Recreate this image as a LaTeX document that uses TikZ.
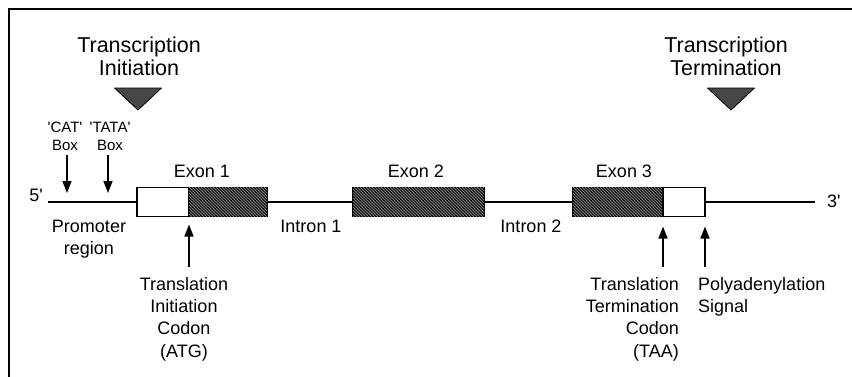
\documentclass[tikz,border=0pt]{standalone}
\usepackage{fontspec}
\setmainfont{Liberation Sans}
\usetikzlibrary{arrows.meta,patterns,positioning}

\tikzset{
    utr/.style={draw, line width=1.4pt, fill=white, minimum height=29pt, inner sep=0pt, outer sep=0pt},
    cds/.style={utr, fill=black!88, postaction={pattern=north west lines, pattern color=black!45}},
    dna/.style={line width=1.4pt},
    lbl/.style={font=\fontsize{18}{22.3}\selectfont, inner sep=0pt, align=center},
    ttl/.style={font=\fontsize{21.5}{23}\selectfont, inner sep=0pt, align=center},
    boxlbl/.style={font=\fontsize{15}{18}\selectfont, inner sep=0pt, align=center},
    marker/.style={fill=black!72, draw=black, line width=0.8pt, line join=round},
    pointer/.style={-{Triangle[length=12pt,width=9pt]}, line width=1.5pt}
}

\begin{document}
\begin{tikzpicture}[x=1pt, y=-1pt]
    \useasboundingbox (0,0) rectangle (852,376);
    \draw[line width=2.8pt] (9,390) |- (870,9);

    % exons
    \node[utr, minimum width=52pt]                 (e1u) at (163,202)   {};
    \node[cds, minimum width=78pt, right=0pt of e1u] (e1c)              {};
    \node[cds, minimum width=131pt]                (e2)  at (418.5,202) {};
    \node[cds, minimum width=90pt]                 (e3c) at (618,202)   {};
    \node[utr, minimum width=42pt, right=0pt of e3c] (e3u)              {};

    % strand
    \coordinate (s5) at (48,202);
    \coordinate (s3) at (815,202);
    \draw[dna] (s5) -- (e1u.west)
               (e1c.east) -- (e2.west)
               (e2.east) -- (e3c.west)
               (e3u.east) -- (s3);
    \node[lbl, anchor=base east] (p5) at (43,201) {5\textquotesingle};
    \node[lbl, anchor=base west] (p3) at (827,207) {3\textquotesingle};

    % labels
    \node[lbl, anchor=base] (x1) at (202,177) {Exon 1};
    \node[lbl, anchor=base] (x2) at (416,177) {Exon 2};
    \node[lbl, anchor=base] (x3) at (624,177) {Exon 3};
    \node[lbl, anchor=base] (i1) at (311,232) {Intron 1};
    \node[lbl, anchor=base] (i2) at (531,232) {Intron 2};
    \node[lbl, anchor=north] (prom) at (89,220) {Promoter\\region};

    % transcription start / stop
    \node[ttl, anchor=north] (tinit) at (139,37) {Transcription\\Initiation};
    \node[ttl, anchor=north] (tterm) at (726,37) {Transcription\\Termination};
    \coordinate (tip1) at (138,110);
    \coordinate (tip2) at (731,110);
    \draw[marker] (tip1) -- ++(-23.5,-22) -- ++(47,0) -- cycle;
    \draw[marker] (tip2) -- ++(-23.5,-22) -- ++(47,0) -- cycle;

    % promoter boxes
    \node[boxlbl, anchor=south] (cat)  at (65,151)  {\textquotesingle CAT\textquotesingle\\Box};
    \node[boxlbl, anchor=south] (tata) at (110,151) {\textquotesingle TATA\textquotesingle\\Box};
    \coordinate (catp)  at (67,193);
    \coordinate (tatap) at (108,193);
    \draw[pointer, shorten <=4pt] (cat.south -| catp) -- (catp);
    \draw[pointer, shorten <=4pt] (tata.south -| tatap) -- (tatap);

    % translation signals
    \coordinate[below=8pt of e1c.south west]  (atg);
    \coordinate[below=10pt of e3u.south west] (taa);
    \coordinate[below=10pt of e3u.south east] (polya);
    \node[lbl, anchor=north] (atgl) at (184,277) {Translation\\Initiation\\Codon\\(ATG)};
    \node[lbl, anchor=north east, align=right] (taal) at (679,277) {Translation\\Termination\\Codon\\(TAA)};
    \node[lbl, anchor=north west, align=left] (polyal) at (698,277) {Polyadenylation\\Signal};
    \draw[pointer, shorten <=10pt] (atgl.north -| atg) -- (atg);
    \draw[pointer, shorten <=10pt] (taal.north -| taa) -- (taa);
    \draw[pointer, shorten <=10pt] (polyal.north -| polya) -- (polya);
\end{tikzpicture}
\end{document}
